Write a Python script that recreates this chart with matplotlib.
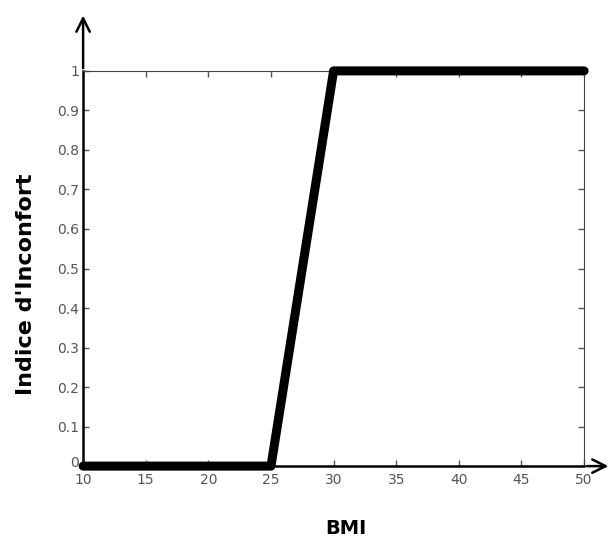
import matplotlib.pyplot as plt
from matplotlib.transforms import ScaledTranslation

bmi = [10, 25, 30, 50]
inconfort = [0, 0, 1, 1]
xticks = [10, 15, 20, 25, 30, 35, 40, 45, 50]
yticks = [0, 0.1, 0.2, 0.3, 0.4, 0.5, 0.6, 0.7, 0.8, 0.9, 1]
ytick_labels = ['0', '0.1', '0.2', '0.3', '0.4', '0.5', '0.6', '0.7', '0.8', '0.9', '1']

fig = plt.figure(figsize=(6.11, 5.37), dpi=100)
ax = fig.add_axes([0.136, 0.132, 0.820, 0.736])

ax.plot(bmi, inconfort, color='black', linewidth=6.5, solid_capstyle='round',
        solid_joinstyle='round', clip_on=False, zorder=5)

ax.set_xlim(10, 50)
ax.set_ylim(0, 1)
ax.set_xticks(xticks)
ax.set_xticklabels([str(t) for t in xticks])
ax.set_yticks(yticks)
ax.set_yticklabels(ytick_labels)
ax.tick_params(direction='in', length=4, width=1, colors='#555555', labelsize=10,
               top=True, right=True)
ax.tick_params(axis='x', pad=5)
ax.tick_params(axis='y', pad=3)
# lift the "0" a few px so it just clears the "10" below it
zero = ax.get_yticklabels()[0]
zero.set_transform(zero.get_transform() + ScaledTranslation(0, 3 / 72, fig.dpi_scale_trans))

for side in ['top', 'right']:
    ax.spines[side].set_color('#444444')
    ax.spines[side].set_linewidth(0.8)
for side in ['left', 'bottom']:
    ax.spines[side].set_color('black')
    ax.spines[side].set_linewidth(1.8)

# axis arrows
ax.annotate('', xy=(0, 1.147), xytext=(0, 1.0), xycoords='axes fraction',
            arrowprops=dict(arrowstyle='->', lw=1.8, color='black', mutation_scale=24))
ax.annotate('', xy=(1.054, 0), xytext=(1.0, 0), xycoords='axes fraction',
            arrowprops=dict(arrowstyle='->', lw=1.8, color='black', mutation_scale=24))

ax.set_xlabel('BMI', fontsize=14, fontweight='bold')
ax.xaxis.set_label_coords(0.525, -0.134)
ax.set_ylabel("Indice d'Inconfort", fontsize=16, fontweight='bold', va='center')
ax.yaxis.set_label_coords(-0.114, 0.46)

fig.savefig('out.png', dpi=100)
